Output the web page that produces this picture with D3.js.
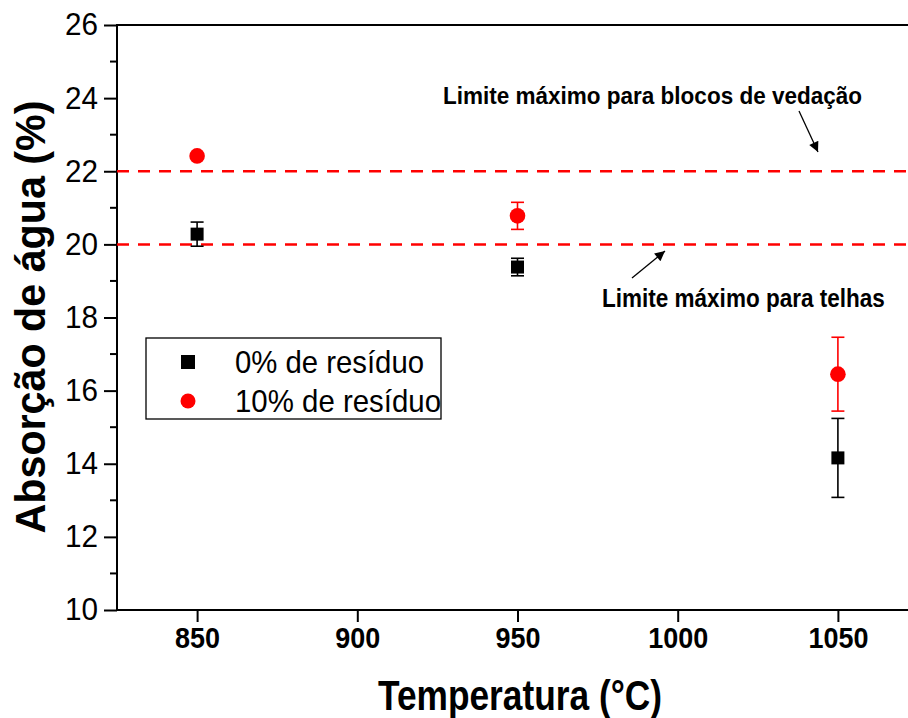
<!DOCTYPE html>
<html>
<head>
<meta charset="utf-8">
<script src="https://cdn.jsdelivr.net/npm/d3@7"></script>
<style>
  html, body { margin: 0; padding: 0; background: #fff; }
  svg { display: block; font-family: "Liberation Sans", Arial, sans-serif; }
</style>
</head>
<body>
<svg id="chart" width="908" height="718"></svg>
<script>
// temperaturas de queima (°C)
const temps = [850, 950, 1050];
// absorção de água (%) e desvio
const res0 = [20.28, 19.38, 14.16];
const err0 = [0.33, 0.24, 1.08];
const res10 = [22.42, 20.78, 16.45];
const err10 = [0.0, 0.37, 1.01];
// limites normativos
const limits = [22, 20];
const legendLabels = ["0% de resíduo", "10% de resíduo"];
const xTicks = [850, 900, 950, 1000, 1050];
const yTicks = [10, 12, 14, 16, 18, 20, 22, 24, 26];

const svg = d3.select("#chart");
const x = d3.scaleLinear().domain([825, 1075]).range([117, 918]);
const y = d3.scaleLinear().domain([10, 26]).range([610, 25]);

// frame
svg.append("rect")
    .attr("x", x(825)).attr("y", y(26))
    .attr("width", x(1075) - x(825)).attr("height", y(10) - y(26))
    .attr("fill", "none").attr("stroke", "#000").attr("stroke-width", 2);

// x axis
const gx = svg.append("g").attr("transform", `translate(0,${y(10)})`)
    .call(d3.axisBottom(x).tickValues(xTicks).tickSize(12).tickPadding(5).tickFormat(d3.format("d")));
gx.select(".domain").remove();
gx.selectAll("line").attr("stroke-width", 2);
gx.selectAll("text")
    .attr("font-size", 30).attr("font-weight", "bold").attr("fill", "#000")
    .attr("textLength", d => String(d).length * 15)
    .attr("lengthAdjust", "spacingAndGlyphs");

// y axis
const gy = svg.append("g").attr("transform", `translate(${x(825)},0)`)
    .call(d3.axisLeft(y).tickValues(yTicks).tickSize(13).tickPadding(6));
gy.select(".domain").remove();
gy.selectAll("line").attr("stroke-width", 2);
gy.selectAll("text")
    .attr("font-size", 31).attr("fill", "#000")
    .attr("textLength", d => String(d).length * 16.5)
    .attr("lengthAdjust", "spacingAndGlyphs");
// minor y ticks
svg.append("g").selectAll("line")
    .data(d3.range(11, 26, 2))
    .join("line")
    .attr("x1", x(825) - 7).attr("x2", x(825))
    .attr("y1", d => y(d)).attr("y2", d => y(d))
    .attr("stroke", "#000").attr("stroke-width", 2);

// axis titles
svg.append("text")
    .attr("x", 520).attr("y", 710)
    .attr("text-anchor", "middle")
    .attr("font-size", 42).attr("font-weight", "bold")
    .attr("textLength", 284).attr("lengthAdjust", "spacingAndGlyphs")
    .text("Temperatura (°C)");
svg.append("text")
    .attr("transform", "translate(45,317) rotate(-90)")
    .attr("text-anchor", "middle")
    .attr("font-size", 42).attr("font-weight", "bold")
    .attr("textLength", 433).attr("lengthAdjust", "spacingAndGlyphs")
    .text("Absorção de água (%)");

// limit lines
svg.append("g").selectAll("line")
    .data(limits)
    .join("line")
    .attr("x1", x(825)).attr("x2", x(1075))
    .attr("y1", d => y(d)).attr("y2", d => y(d))
    .attr("stroke", "#ff0000").attr("stroke-width", 2.5)
    .attr("stroke-dasharray", "12,9");

// annotations
const defs = svg.append("defs");
defs.append("marker")
    .attr("id", "arrow").attr("viewBox", "0 0 10 10")
    .attr("refX", 10).attr("refY", 5)
    .attr("markerWidth", 14).attr("markerHeight", 10)
    .attr("markerUnits", "userSpaceOnUse")
    .attr("orient", "auto")
    .append("path").attr("d", "M0,0 L10,5 L0,10 Z").attr("fill", "#000");

svg.append("text")
    .attr("x", 443).attr("y", 104)
    .attr("font-size", 24).attr("font-weight", "bold")
    .attr("textLength", 419).attr("lengthAdjust", "spacingAndGlyphs")
    .text("Limite máximo para blocos de vedação");
svg.append("line")
    .attr("x1", 799).attr("y1", 111).attr("x2", 818).attr("y2", 152)
    .attr("stroke", "#000").attr("stroke-width", 1.3)
    .attr("marker-end", "url(#arrow)");

// narrow bold text: squeeze horizontally so it stays inside the page
const telhas = svg.append("text")
    .attr("font-size", 25).attr("font-weight", "bold")
    .text("Limite máximo para telhas");
const tw = telhas.node().getComputedTextLength();
telhas.attr("transform", `translate(602,307) scale(${283 / tw},1)`);
svg.append("line")
    .attr("x1", 632).attr("y1", 278).attr("x2", 665).attr("y2", 251)
    .attr("stroke", "#000").attr("stroke-width", 1.3)
    .attr("marker-end", "url(#arrow)");

// error bars
function errorBars(vals, errs, color) {
    const g = svg.append("g").attr("stroke", color).attr("stroke-width", 1.6);
    temps.forEach((t, i) => {
        const cx = x(t), top = y(vals[i] + errs[i]), bot = y(vals[i] - errs[i]);
        g.append("line").attr("x1", cx).attr("x2", cx).attr("y1", top).attr("y2", bot);
        g.append("line").attr("x1", cx - 6.5).attr("x2", cx + 6.5).attr("y1", top).attr("y2", top);
        g.append("line").attr("x1", cx - 6.5).attr("x2", cx + 6.5).attr("y1", bot).attr("y2", bot);
    });
}
errorBars(res0, err0, "#000");
errorBars(res10, err10, "#ff0000");

// points
svg.append("g").selectAll("rect")
    .data(temps)
    .join("rect")
    .attr("x", d => x(d) - 6.5)
    .attr("y", (d, i) => y(res0[i]) - 6.5)
    .attr("width", 13).attr("height", 13)
    .attr("fill", "#000");
svg.append("g").selectAll("circle")
    .data(temps)
    .join("circle")
    .attr("cx", d => x(d))
    .attr("cy", (d, i) => y(res10[i]))
    .attr("r", 7.8)
    .attr("fill", "#ff0000");

// legend
const lg = svg.append("g");
lg.append("rect")
    .attr("x", 146).attr("y", 338)
    .attr("width", 295).attr("height", 81)
    .attr("fill", "#fff").attr("stroke", "#000").attr("stroke-width", 1.3);
lg.append("rect")
    .attr("x", 188 - 7).attr("y", 362 - 7)
    .attr("width", 14).attr("height", 14).attr("fill", "#000");
lg.append("circle")
    .attr("cx", 188).attr("cy", 401).attr("r", 7.5).attr("fill", "#ff0000");
lg.selectAll("text")
    .data(legendLabels)
    .join("text")
    .attr("x", 235)
    .attr("y", (d, i) => 373 + i * 39)
    .attr("font-size", 32)
    .attr("textLength", (d, i) => i === 0 ? 189 : 206)
    .attr("lengthAdjust", "spacingAndGlyphs")
    .text(d => d);
</script>
</body>
</html>
